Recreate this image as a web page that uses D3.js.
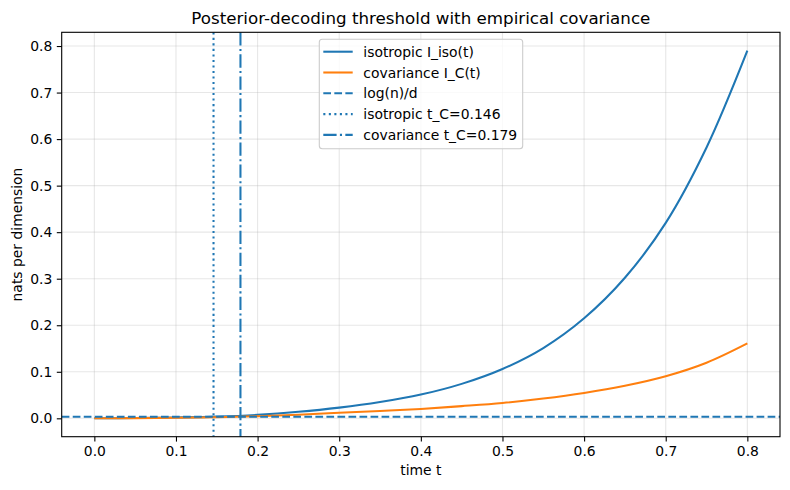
<!DOCTYPE html>
<html>
<head>
<meta charset="utf-8">
<script src="https://cdn.jsdelivr.net/npm/d3@7"></script>
<style>
  body { margin: 0; background: #fff; }
  svg { font-family: "DejaVu Sans", sans-serif; }
</style>
</head>
<body>
<svg id="chart" width="790" height="490"></svg>
<script>
// values
const times = [0, 0.05, 0.1, 0.15, 0.2, 0.25, 0.3, 0.35, 0.4, 0.45, 0.5, 0.55, 0.6, 0.65, 0.7, 0.75, 0.8];
const isoVals = [0, 0.0006, 0.0018, 0.0037, 0.0075, 0.014, 0.023, 0.035, 0.051, 0.074, 0.106, 0.151, 0.215, 0.302, 0.420, 0.582, 0.790];
const covVals = [0, 0.0004, 0.0012, 0.0024, 0.0045, 0.0078, 0.0118, 0.0157, 0.0202, 0.0262, 0.033, 0.0425, 0.0545, 0.0700, 0.0905, 0.1195, 0.161];
const logNoverD = 0.0035;
const tIso = 0.146;
const tCov = 0.179;
const xTicks = [0, 0.1, 0.2, 0.3, 0.4, 0.5, 0.6, 0.7, 0.8];
const yTicks = [0, 0.1, 0.2, 0.3, 0.4, 0.5, 0.6, 0.7, 0.8];
const legendLabels = ['isotropic I_iso(t)', 'covariance I_C(t)', 'log(n)/d', 'isotropic t_C=0.146', 'covariance t_C=0.179'];

const BLUE = '#1f77b4', ORANGE = '#ff7f0e';
const LW = 2.08;
const DASH = '7.7,3.33', DOT = '2.08,3.44', DASHDOT = '13.3,3.33,2.08,3.33';

const svg = d3.select('#chart');
const L = 61.7, R = 780, T = 32.3, B = 436.7;

const x = d3.scaleLinear().domain([-0.04, 0.84]).range([L, R]);
const y = d3.scaleLinear().domain([-0.0395, 0.8295]).range([B, T]);

svg.append('defs').append('clipPath').attr('id', 'clip')
  .append('rect').attr('x', L).attr('y', T).attr('width', R - L).attr('height', B - T);

// grid
const grid = svg.append('g');
grid.selectAll('.gx').data(xTicks).enter().append('line')
  .attr('x1', d => x(d)).attr('x2', d => x(d)).attr('y1', T).attr('y2', B)
  .attr('stroke', '#b0b0b0').attr('stroke-opacity', 0.3).attr('stroke-width', 1.1);
grid.selectAll('.gy').data(yTicks).enter().append('line')
  .attr('x1', L).attr('x2', R).attr('y1', d => y(d)).attr('y2', d => y(d))
  .attr('stroke', '#b0b0b0').attr('stroke-opacity', 0.3).attr('stroke-width', 1.1);

const plot = svg.append('g').attr('clip-path', 'url(#clip)');

const line = d3.line().x(d => x(d[0])).y(d => y(d[1])).curve(d3.curveCatmullRom.alpha(0.5));

plot.append('path').datum(times.map((t, i) => [t, isoVals[i]]))
  .attr('d', line).attr('fill', 'none').attr('stroke', BLUE).attr('stroke-width', LW);
plot.append('path').datum(times.map((t, i) => [t, covVals[i]]))
  .attr('d', line).attr('fill', 'none').attr('stroke', ORANGE).attr('stroke-width', LW);

plot.append('line').attr('x1', L).attr('x2', R).attr('y1', y(logNoverD)).attr('y2', y(logNoverD))
  .attr('stroke', BLUE).attr('stroke-width', LW).attr('stroke-dasharray', DASH);
plot.append('line').attr('x1', x(tIso)).attr('x2', x(tIso)).attr('y1', T).attr('y2', B)
  .attr('stroke', BLUE).attr('stroke-width', LW).attr('stroke-dasharray', DOT);
plot.append('line').attr('x1', x(tCov)).attr('x2', x(tCov)).attr('y1', T).attr('y2', B)
  .attr('stroke', BLUE).attr('stroke-width', LW).attr('stroke-dasharray', DASHDOT);

// axes
const xAxis = svg.append('g').attr('transform', `translate(0,${B})`)
  .call(d3.axisBottom(x).tickValues(xTicks).tickFormat(d3.format('.1f')).tickSize(4.9).tickPadding(4.5));
const yAxis = svg.append('g').attr('transform', `translate(${L},0)`)
  .call(d3.axisLeft(y).tickValues(yTicks).tickFormat(d3.format('.1f')).tickSize(4.9).tickPadding(4.5));
[xAxis, yAxis].forEach(a => {
  a.select('.domain').remove();
  a.selectAll('line').attr('stroke', '#000').attr('stroke-width', 1.1);
  a.selectAll('text').attr('font-size', 13.9).attr('fill', '#000').attr('font-family', 'DejaVu Sans');
});

svg.append('rect').attr('x', L).attr('y', T).attr('width', R - L).attr('height', B - T)
  .attr('fill', 'none').attr('stroke', '#000').attr('stroke-width', 1.1);

// labels
svg.append('text').attr('x', (L + R) / 2).attr('y', 24).attr('text-anchor', 'middle')
  .attr('font-size', 16.7).text('Posterior-decoding threshold with empirical covariance');
svg.append('text').attr('x', (L + R) / 2).attr('y', 475).attr('text-anchor', 'middle')
  .attr('font-size', 13.9).text('time t');
svg.append('text').attr('transform', `translate(22,${(T + B) / 2}) rotate(-90)`).attr('text-anchor', 'middle')
  .attr('font-size', 13.9).text('nats per dimension');

// legend
const lg = svg.append('g');
lg.append('rect').attr('x', 319.3).attr('y', 39.3).attr('width', 203.4).attr('height', 109.4).attr('rx', 3)
  .attr('fill', '#fff').attr('fill-opacity', 0.8).attr('stroke', '#cccccc').attr('stroke-width', 1.1);
const styles = [
  { c: BLUE, d: null }, { c: ORANGE, d: null }, { c: BLUE, d: DASH }, { c: BLUE, d: DOT }, { c: BLUE, d: DASHDOT }
];
legendLabels.forEach((lab, i) => {
  const yy = 51.7 + i * 20.8;
  lg.append('line').attr('x1', 323.3).attr('x2', 352.7).attr('y1', yy).attr('y2', yy)
    .attr('stroke', styles[i].c).attr('stroke-width', LW).attr('stroke-dasharray', styles[i].d);
  lg.append('text').attr('x', 363.3).attr('y', yy + 5).attr('font-size', 13.9).text(lab);
});
</script>
</body>
</html>
